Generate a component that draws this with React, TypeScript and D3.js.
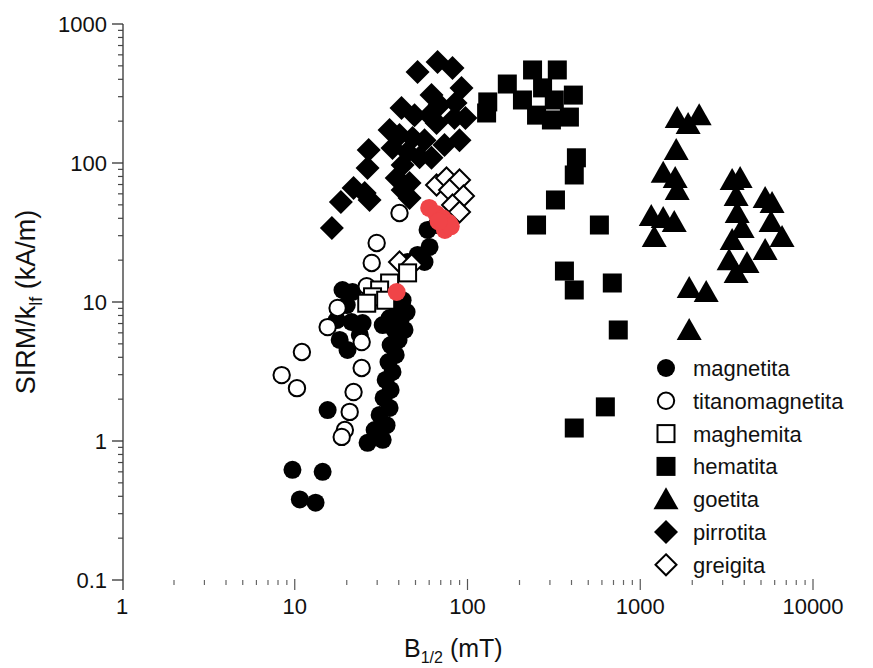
import React from 'react';
import * as d3 from 'd3';

// B1/2 (mT), SIRM/klf (kA/m)
const magnetita: [number, number][] = [
  [9.7, 0.62], [14.5, 0.6], [10.7, 0.38], [13.2, 0.36], [15.5, 1.67],
  [26.4, 0.97], [32.3, 1.02], [29, 1.2], [34, 1.3], [31, 1.54], [35.4, 1.73],
  [32.7, 2.04], [35.9, 2.33], [33.6, 2.75], [36.8, 3.14], [34.9, 3.7], [38.4, 4.16],
  [35.9, 4.9], [39.9, 5.33], [37.8, 6.29], [43.2, 6.29], [41, 7.42], [44.4, 8.47],
  [39.4, 9.06], [35.4, 7.67], [32.3, 6.83],
  [18.9, 12.2], [21.6, 11.8], [20, 9.5], [17.5, 7.42], [21.3, 7.18], [18.2, 5.33],
  [20.2, 4.52], [23.8, 5.79], [24.7, 7.06],
  [42.1, 10.3], [45, 19.4], [51.4, 21.8], [56.4, 19.4], [60.3, 24.9], [58.7, 33], [66.2, 35.8]
];

const titanomagnetita: [number, number][] = [
  [40.4, 43.7], [29.8, 26.6], [27.9, 19.1], [26.1, 13], [17.7, 9.06], [15.5, 6.6],
  [24.4, 5.15], [24.4, 3.35], [21.9, 2.25], [20.8, 1.62], [19.5, 1.2], [18.7, 1.07],
  [11, 4.37], [8.4, 2.98], [10.3, 2.4]
];

const maghemita: [number, number][] = [
  [45, 16.2], [35.4, 13.7], [31, 12.2], [28.2, 10.9], [26.1, 9.8], [33.6, 10.3]
];

const hematita: [number, number][] = [
  [129, 229], [131, 275], [170, 370], [238, 467], [331, 467], [410, 308], [389, 214],
  [306, 204], [251, 221], [208, 284], [272, 347], [318, 284],
  [427, 109], [415, 82], [323, 54.2], [251, 35.8], [580, 35.8], [364, 16.7], [415, 12.2],
  [689, 13.7], [746, 6.29], [628, 1.76], [415, 1.24]
];

const goetita: [number, number][] = [
  [1636, 211], [2193, 221], [1893, 191], [1615, 124], [1358, 85], [1593, 78], [1636, 64],
  [1158, 41.6], [1358, 40.2], [1573, 37.6], [1205, 29.4], [1920, 12.6], [2408, 11.8], [1920, 6.29],
  [3404, 75.5], [3786, 78], [3589, 57.9], [3640, 43.7], [3890, 34], [3404, 27.9], [3268, 20],
  [4150, 19.1], [3589, 16.2], [5284, 56], [5795, 51.5], [5717, 37.6], [6620, 29.4], [5284, 23.7]
];

const pirrotita: [number, number][] = [
  [51.4, 451], [67.1, 533], [81.9, 482], [92.3, 347], [85.3, 270], [68.9, 261], [61.9, 308],
  [41.5, 249], [49.4, 221], [60.3, 221], [66.2, 194], [84.1, 211], [97.3, 211],
  [35.4, 173], [40.4, 159], [48.1, 151], [56.4, 146], [73.6, 135], [89.9, 146],
  [26.8, 124], [36.8, 128], [45, 120], [52.8, 110], [61.9, 109], [42.1, 96.8], [26.4, 92],
  [38.9, 78], [46.2, 71.8], [21.9, 66.1], [25.4, 60.8], [42.1, 64], [46.2, 56],
  [18.5, 52.4], [27.1, 54.2], [16.4, 34]
];

const greigita: [number, number][] = [
  [66.2, 69.5], [75.6, 78], [89.9, 75.5], [78.7, 64], [94.8, 57.9], [81.9, 49.9], [89.9, 44.4],
  [40.4, 19.4], [47.5, 18.5]
];

const muestras: [number, number][] = [
  [38.9, 11.8], [60, 47.5], [66, 43], [72, 40], [78, 37], [74, 33], [80, 35], [68, 38]
];

const xTickValues = [1, 10, 100, 1000, 10000];
const yTickValues = [0.1, 1, 10, 100, 1000];

type Shape = 'circle' | 'square' | 'triangle' | 'diamond';

const series = [
  { name: 'pirrotita', data: pirrotita, shape: 'diamond' as Shape, open: false },
  { name: 'hematita', data: hematita, shape: 'square' as Shape, open: false },
  { name: 'goetita', data: goetita, shape: 'triangle' as Shape, open: false },
  { name: 'magnetita', data: magnetita, shape: 'circle' as Shape, open: false },
  { name: 'greigita', data: greigita, shape: 'diamond' as Shape, open: true },
  { name: 'titanomagnetita', data: titanomagnetita, shape: 'circle' as Shape, open: true },
  { name: 'maghemita', data: maghemita, shape: 'square' as Shape, open: true },
];

const legendOrder = ['magnetita', 'titanomagnetita', 'maghemita', 'hematita', 'goetita', 'pirrotita', 'greigita'];

const FONT = '"Liberation Sans", Arial, sans-serif';

function Marker({ shape, open, color, x, y }: { shape: Shape; open: boolean; color?: string; x: number; y: number }) {
  const fill = open ? '#fff' : (color || '#000');
  const stroke = open ? '#000' : 'none';
  const sw = open ? 2 : 0;
  if (shape === 'circle') {
    return <circle cx={x} cy={y} r={open ? 8.2 : 9} fill={fill} stroke={stroke} strokeWidth={sw} />;
  }
  if (shape === 'square') {
    const s = open ? 17 : 19;
    return <rect x={x - s / 2} y={y - s / 2} width={s} height={s} fill={fill} stroke={stroke} strokeWidth={sw} />;
  }
  if (shape === 'triangle') {
    return <path d={`M${x},${y - 12}L${x + 12.5},${y + 10}L${x - 12.5},${y + 10}Z`} fill={fill} />;
  }
  const h = open ? 10.5 : 12;
  return <path d={`M${x},${y - h}L${x + h},${y}L${x},${y + h}L${x - h},${y}Z`} fill={fill} stroke={stroke} strokeWidth={sw} />;
}

export default function App() {
  const x = d3.scaleLog().domain([1, 10000]).range([122, 813]);
  const y = d3.scaleLog().domain([0.1, 1000]).range([580, 24]);

  const xMinor: number[] = [];
  const yMinor: number[] = [];
  [1, 10, 100, 1000].forEach(d => d3.range(2, 10).forEach(k => xMinor.push(d * k)));
  [0.1, 1, 10, 100].forEach(d => d3.range(2, 10).forEach(k => yMinor.push(d * k)));

  const byName: Record<string, (typeof series)[number]> = {};
  series.forEach(s => { byName[s.name] = s; });

  return (
    <svg width={873} height={668} style={{ position: 'absolute', left: 0, top: 0, background: '#fff' }} fontFamily={FONT}>
      {/* y axis */}
      <line x1={123} x2={123} y1={24} y2={590} stroke="#333" strokeWidth={1.3} />
      {yTickValues.map(v => (
        <g key={'yt' + v}>
          <line x1={112} x2={123} y1={y(v)} y2={y(v)} stroke="#333" strokeWidth={1.3} />
          <text x={107} y={y(v) + 8} textAnchor="end" fontSize={22} fill="#111">{String(v)}</text>
        </g>
      ))}
      {yMinor.map(v => (
        <line key={'ym' + v} x1={118} x2={123} y1={y(v)} y2={y(v)} stroke="#444" strokeWidth={1.2} />
      ))}

      {/* x axis ticks */}
      {xTickValues.map(v => (
        <g key={'xt' + v}>
          {v > 1 && <line x1={x(v)} x2={x(v)} y1={579} y2={590} stroke="#555" strokeWidth={1.2} />}
          <text x={x(v)} y={614} textAnchor="middle" fontSize={22} fill="#111">{String(v)}</text>
        </g>
      ))}
      {xMinor.map(v => (
        <line key={'xm' + v} x1={x(v)} x2={x(v)} y1={580} y2={585} stroke="#666" strokeWidth={1.2} />
      ))}

      {/* axis titles */}
      <text x={404} y={657} fontSize={25} fill="#111">
        B<tspan fontSize={16} dy={6}>1/2</tspan><tspan dy={-6}> (mT)</tspan>
      </text>
      <text transform="translate(35,302) rotate(-90)" textAnchor="middle" fontSize={27} fill="#111">
        SIRM/k<tspan fontSize={18} dy={7}>lf</tspan><tspan dy={-7}> (kA/m)</tspan>
      </text>

      {/* data */}
      {series.map(s => (
        <g key={s.name}>
          {s.data.map((d, i) => (
            <Marker key={i} shape={s.shape} open={s.open} x={x(d[0])} y={y(d[1])} />
          ))}
        </g>
      ))}
      <g>
        {muestras.map((d, i) => (
          <circle key={i} cx={x(d[0])} cy={y(d[1])} r={9} fill="#f04448" />
        ))}
      </g>

      {/* legend */}
      {legendOrder.map((name, i) => {
        const s = byName[name];
        const ly = 368 + i * 32.8;
        return (
          <g key={'lg' + name}>
            <Marker shape={s.shape} open={s.open} x={666} y={ly} />
            <text x={693} y={ly + 8} fontSize={22} fill="#111">{name}</text>
          </g>
        );
      })}
    </svg>
  );
}
